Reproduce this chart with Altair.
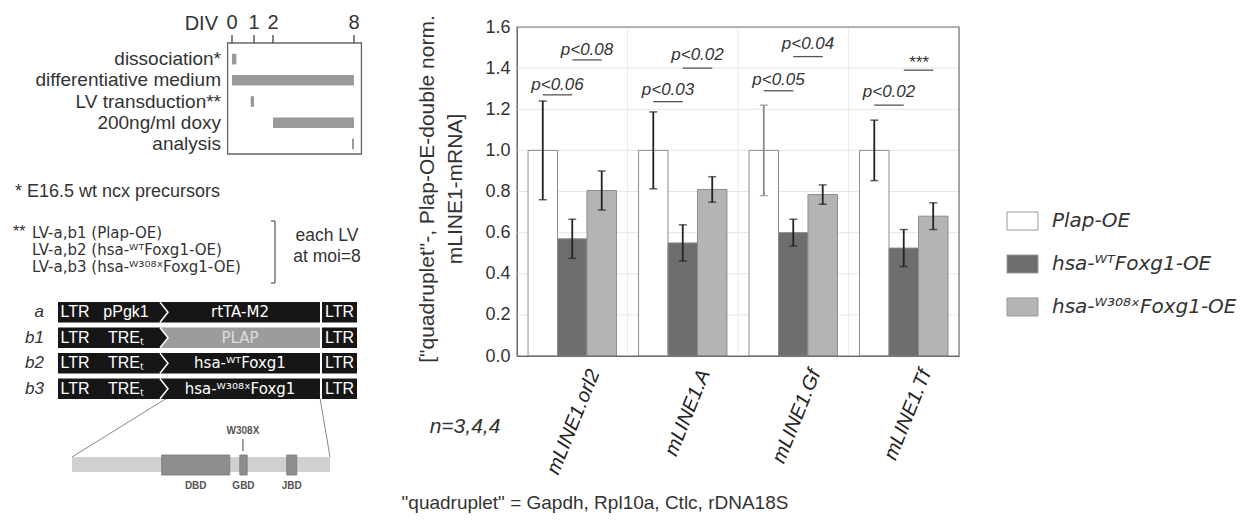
import altair as alt
import pandas as pd

FONT = "Liberation Sans"
SUPFONT = "DejaVu Sans"   # has every superscript glyph used below

# ---------------- bar chart data ----------------
GENES = ["mLINE1.orl2", "mLINE1.A", "mLINE1.Gf", "mLINE1.Tf"]
SERIES = ["Plap-OE", "hsa-ᵂᵀFoxg1-OE", "hsa-ᵂ³⁰⁸ˣFoxg1-OE"]
PLAP_MEAN = [1.0, 1.0, 1.0, 1.0]
PLAP_SEM = [0.24, 0.187, 0.22, 0.147]
WT_MEAN = [0.57, 0.55, 0.60, 0.525]
WT_SEM = [0.095, 0.088, 0.065, 0.09]
MUT_MEAN = [0.805, 0.81, 0.785, 0.68]
MUT_SEM = [0.095, 0.062, 0.047, 0.065]
Y_TICKS = [0.0, 0.2, 0.4, 0.6, 0.8, 1.0, 1.2, 1.4, 1.6]
BAR_COLORS = ["#ffffff", "#6e6e6e", "#b4b4b4"]

# significance annotations (group index, from-series, to-series, line level, text level)
P_LABELS = ["p<0.06", "p<0.08", "p<0.03", "p<0.02", "p<0.05", "p<0.04", "p<0.02", "***"]
P_GROUP = [0, 0, 1, 1, 2, 2, 3, 3]
P_FROM = [0, 1, 0, 1, 0, 1, 0, 1]
P_TO = [1, 2, 1, 2, 1, 2, 1, 2]
P_LINE_Y = [1.27, 1.44, 1.237, 1.40, 1.29, 1.456, 1.22, 1.39]
P_TEXT_Y = [1.318, 1.488, 1.292, 1.465, 1.34, 1.515, 1.282, 1.425]

# ---------------- timeline data ----------------
DIV_DAYS = [0, 1, 2, 8]
TL_STEPS = ["dissociation*", "differentiative medium", "LV transduction**",
            "200ng/ml doxy", "analysis"]
TL_START = [0.0, 0.0, 0.85, 2.0, 7.85]
TL_END = [0.2, 8.0, 1.0, 8.0, 8.0]

# ---------------- lentiviral constructs ----------------
LV_NAMES = ["a", "b1", "b2", "b3"]
LV_PROMOTER = ["pPgk1", "TREₜ", "TREₜ", "TREₜ"]
LV_TRANSGENE = ["rtTA-M2", "PLAP", "hsa-ᵂᵀFoxg1", "hsa-ᵂ³⁰⁸ˣFoxg1"]
LV_PARTS = ["LTR5", "promoter", "transgene", "LTR3"]
LV_PART_START = [0, 34, 102, 264]
LV_PART_END = [34, 102, 262, 299]

# ---------------- Foxg1 protein ----------------
FOXG1_AA = 489
DOMAINS = ["DBD", "GBD", "JBD"]
DOMAIN_START = [170, 318, 407]
DOMAIN_END = [299, 332, 426]
MUTATION = ["W308X"]
MUTATION_AA = [324]

# ---------------- layout helpers ----------------
W, H = 442, 329
OX, OY = 517, 27   # page position of the plot origin


def px(x):
    return x - OX


def py(y):
    return y - OY


def label(text, x, y, size=15, align="left", style="normal", color="#333",
          angle=0, weight="normal", font=FONT):
    return alt.Chart(pd.DataFrame({"t": [text]})).mark_text(
        align=align, baseline="middle", fontSize=size, fontStyle=style,
        color=color, angle=angle, fontWeight=weight, font=font
    ).encode(x=alt.value(px(x)), y=alt.value(py(y)), text="t:N")


# ================= bar chart =================
rows = []
for gi, g in enumerate(GENES):
    for s, m, e in zip(SERIES, [PLAP_MEAN, WT_MEAN, MUT_MEAN], [PLAP_SEM, WT_SEM, MUT_SEM]):
        rows.append(dict(gene=g, series=s, mean=m[gi], lo=m[gi] - e[gi], hi=m[gi] + e[gi]))
bars_df = pd.DataFrame(rows)

x_axis = alt.Axis(title=None, labelAngle=-68, labelFontSize=20, labelFontStyle="italic",
                  labelColor="#222", labelOffset=22, labelPadding=14, ticks=False,
                  domainColor="#555", labelFont=FONT)
x_enc = alt.X("gene:N", sort=GENES,
              scale=alt.Scale(domain=GENES, paddingInner=0.2, paddingOuter=0.1),
              axis=x_axis)
xoff = alt.XOffset("series:N", sort=SERIES,
                   scale=alt.Scale(domain=SERIES, paddingInner=0, paddingOuter=0))
y_scale = alt.Scale(domain=[0, 1.6], nice=False, zero=True)
y_axis = alt.Axis(title=None, values=Y_TICKS, format=".1f", labelFontSize=18,
                  labelColor="#333", ticks=False, domainColor="#555", grid=False,
                  labelPadding=7, labelFont=FONT)

bars = alt.Chart(bars_df).mark_bar(stroke="#8c8c8c", strokeWidth=1).encode(
    x=x_enc, xOffset=xoff,
    y=alt.Y("mean:Q", scale=y_scale, axis=y_axis),
    fill=alt.Fill("series:N", scale=alt.Scale(domain=SERIES, range=BAR_COLORS), legend=None),
)
faint = "datum.gene == 'mLINE1.Gf' && datum.series == 'Plap-OE'"
err_color = alt.condition(faint, alt.value("#8a8a8a"), alt.value("#222222"))
err = alt.Chart(bars_df).mark_rule(strokeWidth=1.8).encode(
    x=x_enc, xOffset=xoff, y=alt.Y("lo:Q", scale=y_scale, axis=y_axis), y2="hi:Q",
    color=err_color)
cap_hi = alt.Chart(bars_df).mark_tick(size=8, thickness=1.5).encode(
    x=x_enc, xOffset=xoff, y=alt.Y("hi:Q", scale=y_scale, axis=y_axis), color=err_color)
cap_lo = alt.Chart(bars_df).mark_tick(size=8, thickness=1.5).encode(
    x=x_enc, xOffset=xoff, y=alt.Y("lo:Q", scale=y_scale, axis=y_axis), color=err_color)
bar_layer = alt.layer(bars, err, cap_hi, cap_lo)

# grid + frame + p-values on a continuous "group" axis
xq = alt.Scale(domain=[0, 4], nice=False, zero=False)
yq = alt.Scale(domain=[0, 1.6], nice=False)
grid_h = alt.Chart(pd.DataFrame({"v": Y_TICKS[1:-1]})).mark_rule(color="#e6e6e6").encode(
    y=alt.Y("v:Q", scale=yq, axis=None))
grid_v = alt.Chart(pd.DataFrame({"g": [1, 2, 3]})).mark_rule(color="#ececec").encode(
    x=alt.X("g:Q", scale=xq, axis=None))
grid_layer = alt.layer(grid_h, grid_v)

step = 0.8 / 3
p_df = pd.DataFrame({
    "label": P_LABELS,
    "x1": [g + 0.1 + (f + 0.5) * step for g, f in zip(P_GROUP, P_FROM)],
    "x2": [g + 0.1 + (t + 0.5) * step for g, t in zip(P_GROUP, P_TO)],
    "yl": P_LINE_Y, "yt": P_TEXT_Y,
})
p_df["xm"] = (p_df["x1"] + p_df["x2"]) / 2
p_lines = alt.Chart(p_df).mark_rule(color="#555", strokeWidth=1.3).encode(
    x=alt.X("x1:Q", scale=xq, axis=None), x2="x2:Q", y=alt.Y("yl:Q", scale=yq, axis=None))
p_text = alt.Chart(p_df).mark_text(fontSize=17, fontStyle="italic", color="#333",
                                   font=FONT, baseline="middle").encode(
    x=alt.X("xm:Q", scale=xq, axis=None), y=alt.Y("yt:Q", scale=yq, axis=None), text="label:N")
frame = alt.Chart(pd.DataFrame({"a": [0]})).mark_rect(fill=None, stroke="#777", strokeWidth=1.2).encode(
    x=alt.datum(0, scale=xq, axis=None), x2=alt.datum(4),
    y=alt.datum(0, scale=yq, axis=None), y2=alt.datum(1.6))
annot_layer = alt.layer(p_lines, p_text, frame)

# legend (manual)
leg_y = alt.Scale(domain=SERIES, range=[py(212), py(316)], paddingInner=0.58, paddingOuter=0)
leg_x = alt.Scale(domain=[0, 1], range=[px(1007), px(1038)])
leg_df = pd.DataFrame({"series": SERIES})
leg_box = alt.Chart(leg_df).mark_rect(stroke="#999", strokeWidth=1).encode(
    x=alt.datum(0, scale=leg_x, axis=None), x2=alt.datum(1),
    y=alt.Y("series:N", scale=leg_y, axis=None),
    fill=alt.Fill("series:N", scale=alt.Scale(domain=SERIES, range=BAR_COLORS), legend=None))
leg_txt = alt.Chart(leg_df).mark_text(align="left", baseline="middle", fontSize=20,
                                      fontStyle="italic", color="#333", font=SUPFONT).encode(
    x=alt.datum(1.45, scale=leg_x, axis=None),
    y=alt.Y("series:N", scale=leg_y, axis=None), text="series:N")
legend_layer = alt.layer(leg_box, leg_txt)

# ================= timeline =================
tl_x = alt.Scale(domain=DIV_DAYS, range=[px(232), px(254), px(273), px(354)])
tl_y = alt.Scale(domain=TL_STEPS, range=[py(48.5), py(154.5)], paddingInner=0.5, paddingOuter=0.25)
tl_df = pd.DataFrame({"step": TL_STEPS, "start": TL_START, "end": TL_END})
tl_bars = alt.Chart(tl_df).mark_rect(color="#9a9a9a").encode(
    x=alt.X("start:Q", scale=tl_x, axis=None), x2="end:Q",
    y=alt.Y("step:N", scale=tl_y, axis=None))
tl_names = alt.Chart(tl_df).mark_text(align="right", baseline="middle", fontSize=19,
                                      color="#333", font=FONT).encode(
    x=alt.value(px(221)), y=alt.Y("step:N", scale=tl_y, axis=None), text="step:N")
tl_frame = alt.Chart(pd.DataFrame({"a": [0]})).mark_rect(fill=None, stroke="#666", strokeWidth=1.3).encode(
    x=alt.datum(-0.2, scale=tl_x, axis=None), x2=alt.datum(8.55),
    y=alt.value(py(43)), y2=alt.value(py(154)))
div_df = pd.DataFrame({"day": DIV_DAYS, "lab": [str(d) for d in DIV_DAYS]})
tl_ticks = alt.Chart(div_df).mark_rule(color="#444", strokeWidth=1.3).encode(
    x=alt.X("day:Q", scale=tl_x, axis=None), y=alt.value(py(35)), y2=alt.value(py(43)))
tl_ticklab = alt.Chart(div_df).mark_text(fontSize=20, color="#333", font=FONT,
                                         baseline="middle").encode(
    x=alt.X("day:Q", scale=tl_x, axis=None), y=alt.value(py(23)), text="lab:N")
timeline_layer = alt.layer(tl_bars, tl_frame, tl_ticks, tl_ticklab, tl_names)

# ================= constructs =================
lv_rows = []
for n, prom, tg in zip(LV_NAMES, LV_PROMOTER, LV_TRANSGENE):
    for part, s, e in zip(LV_PARTS, LV_PART_START, LV_PART_END):
        txt = {"LTR5": "LTR", "LTR3": "LTR", "promoter": prom, "transgene": tg}[part]
        lv_rows.append(dict(lv=n, part=part, start=s, end=e, mid=(s + e) / 2, txt=txt))
lv_df = pd.DataFrame(lv_rows)
lv_x = alt.Scale(domain=[0, 299], range=[px(58), px(357)])
lv_y = alt.Scale(domain=LV_NAMES, range=[py(302), py(399)], paddingInner=0.2, paddingOuter=0)
is_plap = "datum.lv == 'b1' && datum.part == 'transgene'"
lv_boxes = alt.Chart(lv_df).mark_rect().encode(
    x=alt.X("start:Q", scale=lv_x, axis=None), x2="end:Q",
    y=alt.Y("lv:N", scale=lv_y, axis=None),
    fill=alt.condition(is_plap, alt.value("#9c9c9c"), alt.value("#161616")))
arrow_df = pd.DataFrame({"lv": LV_NAMES, "pos": [LV_PART_END[1]] * 4})
lv_arrows = alt.Chart(arrow_df).mark_point(
    shape="M0,-1L0.8,0L0,1", filled=True, fill="#161616", stroke="#ffffff",
    strokeWidth=1.5, size=400, opacity=1).encode(
    x=alt.X("pos:Q", scale=lv_x, axis=None), y=alt.Y("lv:N", scale=lv_y, axis=None))
ltr_text = alt.Chart(lv_df).transform_filter("datum.part != 'transgene'").mark_text(
    fontSize=16, font=FONT, baseline="middle", color="#ffffff").encode(
    x=alt.X("mid:Q", scale=lv_x, axis=None), y=alt.Y("lv:N", scale=lv_y, axis=None),
    text="txt:N")
gene_text = alt.Chart(lv_df).transform_filter("datum.part == 'transgene'").mark_text(
    fontSize=15, font=SUPFONT, baseline="middle").encode(
    x=alt.X("mid:Q", scale=lv_x, axis=None), y=alt.Y("lv:N", scale=lv_y, axis=None),
    text="txt:N",
    color=alt.condition(is_plap, alt.value("#dddddd"), alt.value("#ffffff")))
lv_names = alt.Chart(pd.DataFrame({"lv": LV_NAMES})).mark_text(
    align="right", baseline="middle", fontSize=17, fontStyle="italic", color="#333", font=FONT).encode(
    x=alt.value(px(44)), y=alt.Y("lv:N", scale=lv_y, axis=None), text="lv:N")
conn_df = pd.DataFrame({"top": [109, 262], "bottom": [14, 272]})
connectors = alt.Chart(conn_df).mark_rule(color="#888", strokeWidth=1).encode(
    x=alt.X("top:Q", scale=lv_x, axis=None), x2="bottom:Q",
    y=alt.value(py(398)), y2=alt.value(py(457)))
lv_layer = alt.layer(connectors, lv_boxes, lv_arrows, ltr_text, gene_text, lv_names)

# ================= Foxg1 protein =================
pr_x = alt.Scale(domain=[0, FOXG1_AA], range=[px(72), px(330)])
pr_base = alt.Chart(pd.DataFrame({"s": [0], "e": [FOXG1_AA]})).mark_rect(color="#d0d0d0").encode(
    x=alt.X("s:Q", scale=pr_x, axis=None), x2="e:Q", y=alt.value(py(457)), y2=alt.value(py(472)))
dom_df = pd.DataFrame({"name": DOMAINS, "s": DOMAIN_START, "e": DOMAIN_END})
dom_df["m"] = (dom_df["s"] + dom_df["e"]) / 2
pr_dom = alt.Chart(dom_df).mark_rect(color="#8e8e8e", stroke="#777", strokeWidth=0.8).encode(
    x=alt.X("s:Q", scale=pr_x, axis=None), x2="e:Q", y=alt.value(py(455)), y2=alt.value(py(475)))
pr_domlab = alt.Chart(dom_df).mark_text(fontSize=10, color="#555", font=FONT, fontWeight="bold").encode(
    x=alt.X("m:Q", scale=pr_x, axis=None), y=alt.value(py(486)), text="name:N")
mut_df = pd.DataFrame({"name": MUTATION, "aa": MUTATION_AA})
pr_mut = alt.Chart(mut_df).mark_rule(color="#666", strokeWidth=1.2).encode(
    x=alt.X("aa:Q", scale=pr_x, axis=None), y=alt.value(py(439)), y2=alt.value(py(451)))
pr_mutlab = alt.Chart(mut_df).mark_text(fontSize=10, color="#555", font=FONT, fontWeight="bold").encode(
    x=alt.X("aa:Q", scale=pr_x, axis=None), y=alt.value(py(431)), text="name:N")
protein_layer = alt.layer(pr_base, pr_dom, pr_domlab, pr_mut, pr_mutlab)

# ================= free text =================
texts = [
    label("DIV", 218, 24, size=20, align="right"),
    label("* E16.5 wt ncx precursors", 15, 192, size=18),
    label("**", 13, 232, size=16),
    label("LV-a,b1 (Plap-OE)", 32, 233, size=15, font=SUPFONT),
    label("LV-a,b2 (hsa-ᵂᵀFoxg1-OE)", 32, 250, size=15, font=SUPFONT),
    label("LV-a,b3 (hsa-ᵂ³⁰⁸ˣFoxg1-OE)", 32, 267, size=15, font=SUPFONT),
    label("each LV", 327, 236, size=17.5, align="center"),
    label("at moi=8", 327, 257, size=17.5, align="center"),
    label('["quadruplet"-, Plap-OE-double norm.', 428, 189, size=21, align="center", angle=270),
    label("mLINE1-mRNA]", 456, 189, size=21, align="center", angle=270),
    label("n=3,4,4", 465, 427, size=21, style="italic", align="center"),
    label('"quadruplet" = Gapdh, Rpl10a, Ctlc, rDNA18S', 595, 503, size=19, align="center"),
]
bracket_df = pd.DataFrame({"a": [0]})
bracket = alt.layer(
    alt.Chart(bracket_df).mark_rule(color="#555", strokeWidth=1.2).encode(
        x=alt.value(px(275)), y=alt.value(py(221)), y2=alt.value(py(283))),
    alt.Chart(bracket_df).mark_rule(color="#555", strokeWidth=1.2).encode(
        x=alt.value(px(271)), x2=alt.value(px(275)), y=alt.value(py(221))),
    alt.Chart(bracket_df).mark_rule(color="#555", strokeWidth=1.2).encode(
        x=alt.value(px(271)), x2=alt.value(px(275)), y=alt.value(py(283))),
)

chart = alt.layer(
    grid_layer, bar_layer, annot_layer, legend_layer,
    timeline_layer, lv_layer, protein_layer, bracket, *texts
).resolve_scale(
    x="independent", y="independent", fill="independent", color="independent"
).properties(
    width=W, height=H,
    padding={"left": 509, "top": 19, "right": 1242 - 509 - W, "bottom": 506 - 19 - H},
    autosize=alt.AutoSizeParams(type="none"),
).configure_view(stroke=None).configure(font=FONT, background="white")

chart.save("out.html", embed_options={"renderer": "svg", "actions": False})
